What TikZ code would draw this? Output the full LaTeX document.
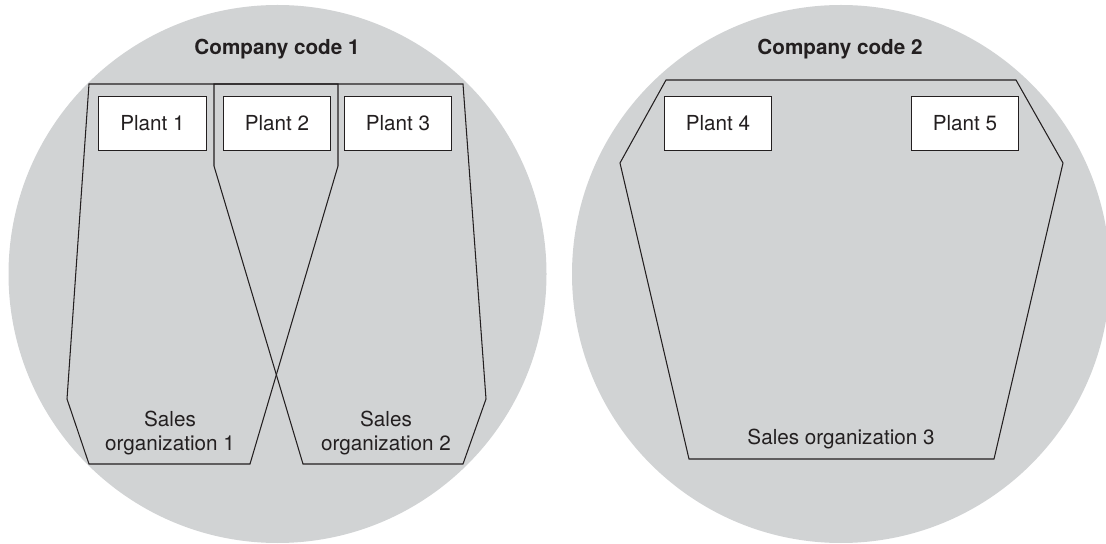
\documentclass[tikz,border=0pt]{standalone}
\usepackage{fontspec}
\setmainfont{TeX Gyre Heros}
\definecolor{compgray}{HTML}{D1D3D4}
\definecolor{ink}{HTML}{231F20}
\begin{document}
\begin{tikzpicture}[x=0.025cm,y=-0.025cm,line width=0.75pt]
		\tikzstyle{plant}=[draw=ink,fill=white,line width=0.85pt,minimum width=2.68cm,minimum height=1.33cm,inner sep=0pt,font=\fontsize{14.7}{17.5}\selectfont,text=ink]
		\tikzstyle{lbl}=[font=\fontsize{14.7}{17.5}\selectfont,text=ink,align=center,inner sep=0pt]
		\tikzstyle{org}=[draw=ink,line join=miter]

		\useasboundingbox (0,0) rectangle (1106,544);
		\clip (0,0) rectangle (1106,544);

		\fill[compgray] (277.5,274) circle[radius=269];
		\fill[compgray] (841,274) circle[radius=269];

		\node[lbl,anchor=base,font=\bfseries\fontsize{14.7}{17.5}\selectfont](cc1) at (277,55){Company code 1};
		\node[lbl,anchor=base,font=\bfseries\fontsize{14.7}{17.5}\selectfont](cc2) at (840,55){Company code 2};

		\draw[org] (89,84) -- (338,84) -- (338,166) -- (250,464) -- (89,464) -- (67,399) -- cycle;
		\draw[org] (214,84) -- (463,84) -- (486,399) -- (463,464) -- (303,464) -- (214,166) -- cycle;
		\draw[org] (666,80) -- (1016,80) -- (1063,163) -- (994,459) -- (689,459) -- (620,163) -- cycle;

		\node[plant](p1) at (152.5,123.5){Plant 1};
		\node[plant](p2) at (277,123.5){Plant 2};
		\node[plant](p3) at (398,123.5){Plant 3};
		\node[plant](p4) at (718,123.5){Plant 4};
		\node[plant](p5) at (965,123.5){Plant 5};

		\node[lbl](so1) at (170,433){Sales\\organization 1};
		\node[lbl](so2) at (386,433){Sales\\organization 2};
		\node[lbl,anchor=base](so3) at (841,444){Sales organization 3};
\end{tikzpicture}
\end{document}
